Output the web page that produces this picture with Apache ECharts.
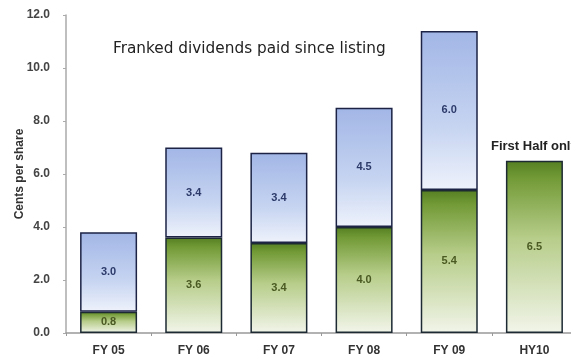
<!DOCTYPE html>
<html><head><meta charset="utf-8">
<script src="https://cdn.jsdelivr.net/npm/echarts@6/dist/echarts.min.js"></script>
<style>html,body{margin:0;padding:0;background:#fff;overflow:hidden}#c{width:571px;height:356px}</style>
</head><body><div id="c"></div>
<script>
const categories = ['FY 05','FY 06','FY 07','FY 08','FY 09','HY10'];
const interimValues = [0.8, 3.6, 3.4, 4.0, 5.4, 6.5];
const finalValues = [3.0, 3.4, 3.4, 4.5, 6.0, null];
const yTicks = ['0.0','2.0','4.0','6.0','8.0','10.0','12.0'];

const green = new echarts.graphic.LinearGradient(0,0,0,1,[
  {offset:0,color:'#547f22'},{offset:0.1,color:'#729a36'},{offset:0.45,color:'#b7cd8a'},{offset:1,color:'#f2f5ea'}]);
const blue = new echarts.graphic.LinearGradient(0,0,0,1,[
  {offset:0,color:'#a2b6e6'},{offset:0.6,color:'#c6d4f1'},{offset:1,color:'#eef2fb'}]);
const ff = 'Liberation Sans, Arial, sans-serif';

const chart = echarts.init(document.getElementById('c'));
chart.setOption({
  animation:false,
  textStyle:{fontFamily:ff},
  title:{text:'Franked dividends paid since listing',left:108,top:37,
    textStyle:{fontSize:15.3,fontWeight:'normal',color:'#222',fontFamily:'DejaVu Sans, sans-serif'}},
  graphic:[{type:'text',left:491,top:140,style:{text:'First Half only',fontSize:13,fontWeight:'bold',fill:'#222',fontFamily:ff}}],
  grid:{left:66,top:15,width:511,bottom:23,containLabel:false,outerBoundsMode:'none'},
  xAxis:{type:'category',data:categories,
    axisLine:{lineStyle:{color:'#999',width:1.5}},
    axisTick:{show:true,lineStyle:{color:'#999'},length:3},
    axisLabel:{fontSize:12,fontWeight:'bold',color:'#333',margin:12}},
  yAxis:{type:'value',min:0,max:12,interval:2,
    name:'Cents per share',nameLocation:'middle',nameGap:40,nameRotate:90,nameMoveOverlap:false,
    nameTextStyle:{fontSize:12,fontWeight:'bold',color:'#333'},
    splitLine:{show:false},
    axisLine:{show:true,lineStyle:{color:'#aaa',width:1.5}},
    axisTick:{show:true,length:3,lineStyle:{color:'#aaa'}},
    axisLabel:{fontSize:12,fontWeight:'bold',color:'#444',margin:16,
      formatter:(v)=>yTicks[Math.round(v/2)]}},
  series:[
    {type:'bar',stack:'d',data:interimValues,barWidth:57,
     itemStyle:{color:green,borderColor:'#1d2a33',borderWidth:1.5},
     label:{show:true,position:'inside',formatter:(p)=>p.value.toFixed(1),
       fontSize:11,fontWeight:'bold',color:'#4a5a22'}},
    {type:'bar',stack:'d',data:finalValues,barWidth:57,
     itemStyle:{color:blue,borderColor:'#1c2345',borderWidth:1.5},
     label:{show:true,position:'inside',formatter:(p)=>p.value==null?'':p.value.toFixed(1),
       fontSize:11,fontWeight:'bold',color:'#2c3a6a'}}
  ]
});
</script></body></html>
